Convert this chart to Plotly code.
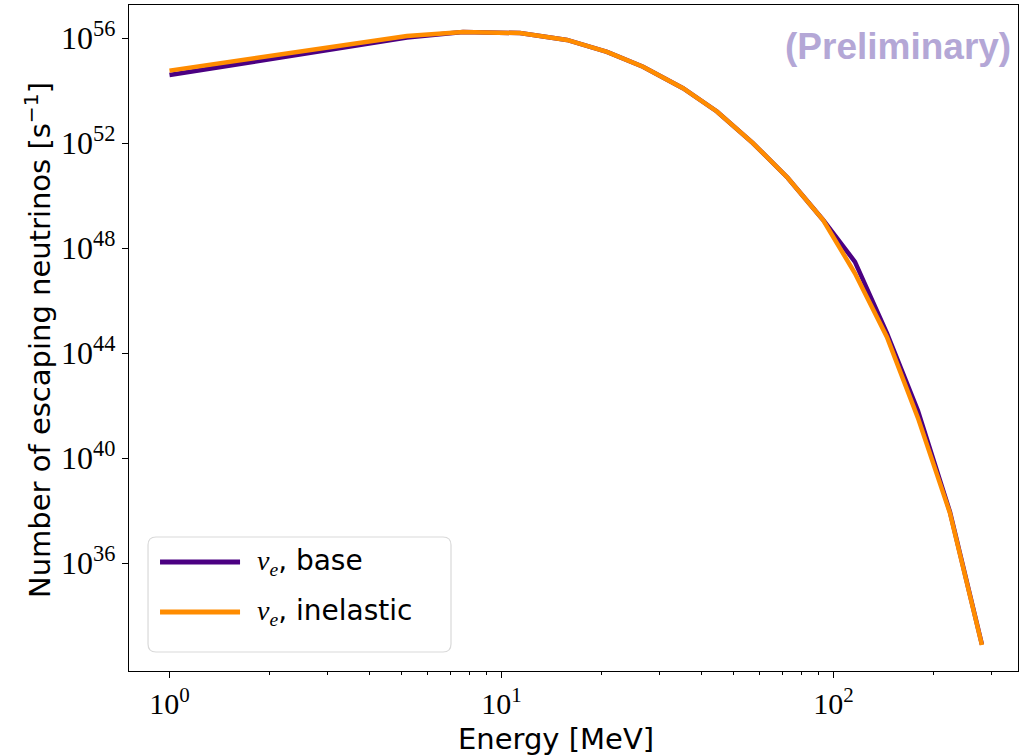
import plotly.graph_objects as go

# ---- data ----
energy_mev = [1.0, 5.19, 7.66, 11.37, 15.75, 20.79, 26.69, 35.22, 44.57, 57.2,
              72.9, 92.99, 116.1, 144.9, 179.7, 224.4, 280.1]
nue_base = [3.9e54, 1.05e56, 1.7e56, 1.55e56, 8.5e55, 3.0e55, 8.1e54, 1.23e54, 1.6e53, 1.0e52,
            4.7e50, 1.2e49, 3.0e47, 5.8e44, 6.3e41, 8.9e37, 7.9e32]
nue_inelastic = [5.75e54, 1.2e56, 1.7e56, 1.55e56, 8.5e55, 3.0e55, 8.1e54, 1.23e54, 1.6e53, 1.0e52,
                 4.7e50, 1.2e49, 1.1e47, 4.1e44, 3.4e41, 8.1e37, 7.6e32]
series_names = ["base", "inelastic"]
series_colors = ["#4B0082", "#FF8C00"]

x_tickvals = [1, 10, 100]
x_ticktext = ["10<sup>0</sup>", "10<sup>1</sup>", "10<sup>2</sup>"]
x_minorvals = [2, 3, 4, 5, 6, 7, 8, 9, 20, 30, 40, 50, 60, 70, 80, 90, 200, 300]
y_tickvals = [1e36, 1e40, 1e44, 1e48, 1e52, 1e56]
y_ticktext = ["10<sup>36</sup>", "10<sup>40</sup>", "10<sup>44</sup>",
              "10<sup>48</sup>", "10<sup>52</sup>", "10<sup>56</sup>"]
x_title = "Energy [MeV]"
y_title = "Number of escaping neutrinos [s<sup>−1</sup>]"

fig = go.Figure()
for name, ys, col in zip(series_names, [nue_base, nue_inelastic], series_colors):
    fig.add_trace(go.Scatter(x=energy_mev, y=ys, mode="lines", name=name,
                             line=dict(color=col, width=4.5), showlegend=False))

serif = "Liberation Serif"
sans = "DejaVu Sans"

fig.update_layout(
    width=1020, height=756,
    margin=dict(l=129, r=2, t=5, b=85),
    paper_bgcolor="white", plot_bgcolor="white",
    xaxis=dict(type="log", range=[-0.122, 2.556], automargin=False,
               tickmode="array", tickvals=x_tickvals, ticktext=x_ticktext,
               ticks="outside", ticklen=6, tickcolor="black", tickwidth=1,
               minor=dict(ticks="outside", ticklen=3, tickcolor="black",
                          tickmode="array", tickvals=x_minorvals, showgrid=False),
               showgrid=False, zeroline=False, showline=True, linecolor="black",
               linewidth=1.2, mirror=True,
               tickfont=dict(family=serif, size=30, color="black")),
    yaxis=dict(type="log", range=[31.89, 57.26], automargin=False,
               tickmode="array", tickvals=y_tickvals, ticktext=y_ticktext,
               ticks="outside", ticklen=6, tickcolor="black", tickwidth=1,
               showgrid=False, zeroline=False, showline=True, linecolor="black",
               linewidth=1.2, mirror=True,
               tickfont=dict(family=serif, size=32, color="black")),
)

# axis titles
fig.add_annotation(xref="paper", yref="paper", x=(556 - 129) / 889, y=(671 - 739) / 666,
                   xanchor="center", yanchor="middle", showarrow=False, text=x_title,
                   font=dict(family=sans, size=29, color="black"))
fig.add_annotation(xref="paper", yref="paper", x=(38 - 129) / 889, y=(671 - 340) / 666,
                   xanchor="center", yanchor="middle", showarrow=False, text=y_title,
                   textangle=-90, font=dict(family=sans, size=29, color="black"))

# Preliminary mark
fig.add_annotation(xref="paper", yref="paper", x=(1013 - 129) / 889, y=(671 - 46) / 666,
                   xanchor="right", yanchor="middle", text="<b>(Preliminary)</b>",
                   showarrow=False,
                   font=dict(family="Liberation Sans", size=37, color="#B4A7D6"))

# Legend drawn as a framed box
x0, x1, y0, y1 = 0.0214, 0.3622, 0.0285, 0.2012
rx, ry = 0.009, 0.012
path = (f"M {x0+rx},{y0} L {x1-rx},{y0} Q {x1},{y0} {x1},{y0+ry} "
        f"L {x1},{y1-ry} Q {x1},{y1} {x1-rx},{y1} L {x0+rx},{y1} "
        f"Q {x0},{y1} {x0},{y1-ry} L {x0},{y0+ry} Q {x0},{y0} {x0+rx},{y0} Z")
fig.add_shape(type="path", path=path, xref="paper", yref="paper",
              line=dict(color="#d9d9d9", width=1.2), fillcolor="rgba(255,255,255,0.8)")
leg_y = [0.1637, 0.0886]
for name, col, ly in zip(series_names, series_colors, leg_y):
    fig.add_shape(type="line", xref="paper", yref="paper", x0=0.0349, x1=0.1249,
                  y0=ly, y1=ly, line=dict(color=col, width=5))
    fig.add_annotation(xref="paper", yref="paper", x=0.1417, y=ly, xanchor="left",
                       yanchor="middle", showarrow=False,
                       text=(f'<span style="font-family:{serif}"><i>ν</i><sub><i>e</i></sub></span>'
                             f', {name}'),
                       font=dict(family=sans, size=28, color="black"))

fig.write_html("out.html", config={"displayModeBar": False},
               post_script="document.body.style.margin='0';document.body.style.overflow='hidden';")
